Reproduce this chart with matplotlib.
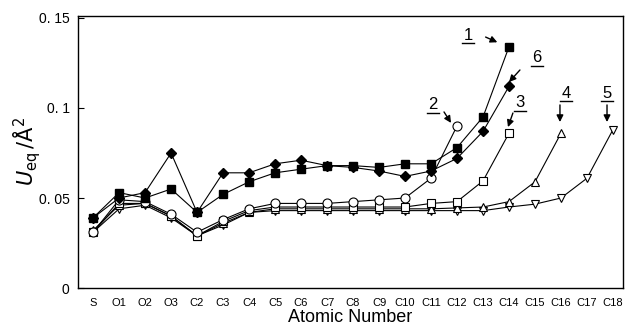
import matplotlib
matplotlib.use("Agg")
import matplotlib.pyplot as plt

plt.rcParams['font.family'] = ['Liberation Sans', 'DejaVu Sans']

# atoms along the chain
atoms = ['S', 'O1', 'O2', 'O3', 'C2', 'C3', 'C4', 'C5', 'C6', 'C7', 'C8', 'C9',
         'C10', 'C11', 'C12', 'C13', 'C14', 'C15', 'C16', 'C17', 'C18']

# Ueq values (one list per compound)
ueq1 = [0.039, 0.053, 0.050, 0.055, 0.042, 0.052, 0.059, 0.064, 0.066, 0.068,
        0.068, 0.067, 0.069, 0.069, 0.078, 0.095, 0.134]
ueq6 = [0.039, 0.050, 0.053, 0.075, 0.042, 0.064, 0.064, 0.069, 0.071, 0.068,
        0.067, 0.065, 0.062, 0.065, 0.072, 0.087, 0.112]
ueq2 = [0.031, 0.049, 0.048, 0.041, 0.031, 0.038, 0.044, 0.047, 0.047, 0.047,
        0.048, 0.049, 0.050, 0.061, 0.090]
ueq3 = [0.031, 0.047, 0.047, 0.040, 0.029, 0.037, 0.043, 0.045, 0.045, 0.045,
        0.045, 0.045, 0.045, 0.047, 0.048, 0.0595, 0.086]
ueq4 = [0.032, 0.046, 0.047, 0.040, 0.029, 0.036, 0.042, 0.044, 0.044, 0.044,
        0.044, 0.044, 0.044, 0.044, 0.0445, 0.045, 0.048, 0.059, 0.086]
ueq5 = [0.031, 0.044, 0.046, 0.039, 0.029, 0.035, 0.042, 0.043, 0.043, 0.043,
        0.043, 0.043, 0.043, 0.043, 0.043, 0.043, 0.045, 0.0466, 0.050, 0.061, 0.088]

fig = plt.figure(figsize=(6.26, 3.33), dpi=100)
ax = fig.add_axes([0.1246, 0.135, 0.8704, 0.817])

lw = 0.8
ax.plot(range(len(ueq5)), ueq5, 'v-', color='black', lw=lw, ms=6, mfc='white', mec='black', mew=0.8)
ax.plot(range(len(ueq4)), ueq4, '^-', color='black', lw=lw, ms=6, mfc='white', mec='black', mew=0.8)
ax.plot(range(len(ueq3)), ueq3, 's-', color='black', lw=lw, ms=6, mfc='white', mec='black', mew=0.8)
ax.plot(range(len(ueq2)), ueq2, 'o-', color='black', lw=lw, ms=6.5, mfc='white', mec='black', mew=0.8)
ax.plot(range(len(ueq6)), ueq6, 'D-', color='black', lw=lw, ms=5.5)
ax.plot(range(len(ueq1)), ueq1, 's-', color='black', lw=lw, ms=6)

ax.set_xlim(-0.58, 20.38)
ax.set_ylim(0, 0.1511)
ax.set_xticks(range(len(atoms)))
ax.set_xticklabels(atoms, fontsize=8)
ax.tick_params(axis='x', length=0, pad=7)
ax.set_yticks([0, 0.05, 0.1, 0.15])
ax.set_yticklabels(['0', '0. 05', '0. 1', '0. 15'], fontsize=10)
ax.tick_params(axis='y', direction='in', length=4, width=0.8, pad=6)
for s in ax.spines.values():
    s.set_linewidth(1.0)

ax.set_xlabel('Atomic Number', fontsize=13, labelpad=1)
ax.set_ylabel(r'$U_{\rm eq}\,/\mathrm{\AA}^2$', fontsize=15, labelpad=-3)

# labels for each compound: (text, text x, text y, arrow start x, y, arrow end x, y)
arrow = dict(arrowstyle='-|>', color='black', lw=1.0, mutation_scale=10,
             shrinkA=0, shrinkB=0)
labels = [('1', 14.42, 0.1405, 15.1, 0.1394, 15.55, 0.1365),
          ('6', 17.08, 0.1278, 16.42, 0.1211, 16.0, 0.1144),
          ('2', 13.08, 0.1017, 13.5, 0.0978, 13.77, 0.0917),
          ('3', 16.42, 0.1028, 16.15, 0.0972, 15.96, 0.0894),
          ('4', 18.19, 0.1083, 17.96, 0.1017, 17.96, 0.0922),
          ('5', 19.77, 0.1083, 19.77, 0.1017, 19.77, 0.0922)]
for name, tx, ty, x0, y0, x1, y1 in labels:
    ax.text(tx, ty, name, fontsize=12, ha='center', va='center')
    ax.plot([tx - 0.24, tx + 0.24], [ty - 0.0045, ty - 0.0045], color='black', lw=1.0)
    ax.annotate('', xy=(x1, y1), xytext=(x0, y0), arrowprops=arrow)

fig.savefig('out.png', dpi=100)
